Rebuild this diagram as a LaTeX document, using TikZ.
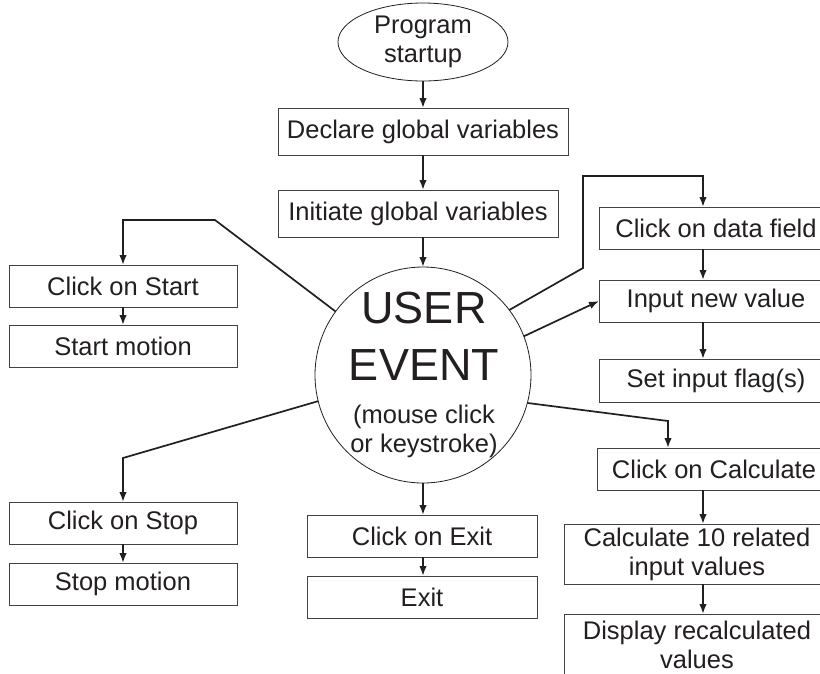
\documentclass[tikz,border=0pt]{standalone}
\usepackage{fontspec}
\setmainfont{Liberation Sans}
\usetikzlibrary{shapes.geometric,arrows.meta,calc}
\definecolor{ink}{HTML}{231F20}
\begin{document}
\begin{tikzpicture}[x=1pt,y=-1pt,
  every node/.style={font=\fontsize{25.5}{29}\selectfont, text=ink, inner sep=0pt, outer sep=0pt},
  box/.style={draw=ink!85, line width=1pt, rectangle, align=center},
  arr/.style={draw=ink, line width=1.7pt, line join=miter, -{Latex[length=10pt,width=7.5pt]}},
  bigtxt/.style={font=\fontsize{45}{57}\selectfont, anchor=base},
  smtxt/.style={anchor=base}]
\useasboundingbox (0,0) rectangle (820,673);
\fill[white] (0,0) rectangle (820,673);
\clip (0,0) rectangle (820,673);

% nodes
\node[ellipse, draw=ink, line width=0.8pt, minimum width=170, minimum height=78, align=center] (ell) at (423,42) {Program\\startup};
\node[box, minimum width=290, minimum height=47] (dec) at (423,131.5) {Declare global variables};
\node[box, minimum width=280, minimum height=47] (ini) at (418,213.5) {Initiate global variables};

\node[circle, draw=ink, line width=0.8pt, minimum size=216] (usr) at (423,375) {};
\node[bigtxt] (u1) at (424,323) {USER};
\node[bigtxt] (u2) at (424,380) {EVENT};
\node[smtxt] (u3) at (424,423) {(mouse click};
\node[smtxt] (u4) at (424,452) {or keystroke)};

\node[box, minimum width=228, minimum height=42] (start) at (123,286) {Click on Start};
\node[box, minimum width=228, minimum height=42] (smot) at (123,346) {Start motion};
\node[box, minimum width=228, minimum height=42] (stop) at (123,523) {Click on Stop};
\node[box, minimum width=228, minimum height=42] (stopm) at (123,584) {Stop motion};

\node[box, minimum width=230, minimum height=42] (cexit) at (422,536) {Click on Exit};
\node[box, minimum width=230, minimum height=42] (exit) at (422,597) {Exit};

\node[box, minimum width=234, minimum height=42] (data) at (716,228) {Click on data field};
\node[box, minimum width=234, minimum height=42] (inp) at (716,301) {Input new value};
\node[box, minimum width=234, minimum height=43] (flag) at (716,380.5) {Set input flag(s)};
\node[box, minimum width=234, minimum height=42] (calc) at (714,469) {Click on Calculate};
\node[box, minimum width=266, minimum height=60] (calc10) at (697,554) {Calculate 10 related\\input values};
\node[box, minimum width=266, minimum height=62] (disp) at (697,645) {Display recalculated\\values};

% bend coordinates
\coordinate (c703) at (703,0);
\coordinate (c668) at (668,0);
\coordinate (bA) at (215,220);
\coordinate (bA2) at (123,220);
\coordinate (bB) at (583,268);
\coordinate (bB2) at (583,176);
\coordinate (bB3) at (703,176);
\coordinate (bC) at (123,458);
\coordinate (bD) at (668,421);

% connectors
\draw[arr] (ell.south) -- (ell.south |- dec.north);
\draw[arr] (dec.south) -- (dec.south |- ini.north);
\draw[arr] (ini.south -| usr.north) -- (usr.north);
\draw[arr] (usr.144.6) -- (bA) -- (bA2) -- (start.north);
\draw[arr] (start.south) -- (smot.north);
\draw[arr] (usr.194.3) -- (bC) -- (stop.north);
\draw[arr] (stop.south) -- (stopm.north);
\draw[arr] (usr.south) -- (usr.south |- cexit.north);
\draw[arr] (cexit.south -| usr.south) -- (exit.north -| usr.south);
\draw[arr] (usr.37.4) -- (bB) -- (bB2) -- (bB3) -- (c703 |- data.north);
\draw[arr] (usr.21.9) -- (inp.west);
\draw[arr] (c703 |- data.south) -- (c703 |- inp.north);
\draw[arr] (c703 |- inp.south) -- (c703 |- flag.north);
\draw[arr] (usr.-15) -- (bD) -- (c668 |- calc.north);
\draw[arr] (c703 |- calc.south) -- (c703 |- calc10.north);
\draw[arr] (c703 |- calc10.south) -- (c703 |- disp.north);
\end{tikzpicture}
\end{document}
